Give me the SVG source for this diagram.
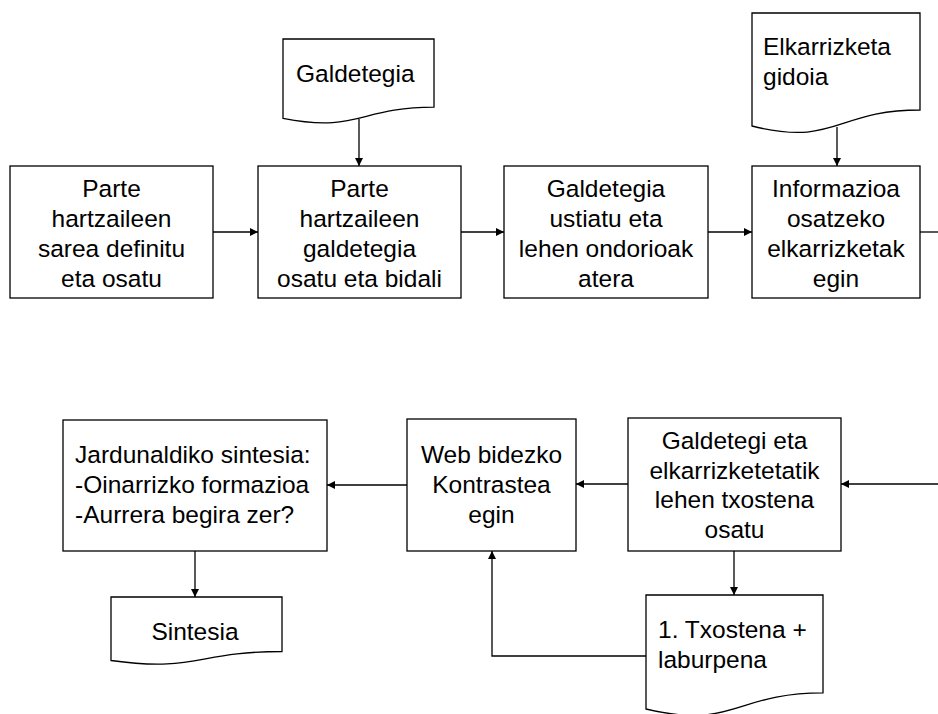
<svg xmlns="http://www.w3.org/2000/svg" width="938" height="714" viewBox="0 0 938 714">
<style>
.b{fill:#fff;stroke:#000;stroke-width:1.3}
.c{fill:none;stroke:#000;stroke-width:1.3}
text{font-family:"Liberation Sans",Arial,sans-serif;font-size:24.5px;fill:#000}
.m{text-anchor:middle}
</style>
<defs>
<marker id="ah" viewBox="0 0 10 10" refX="10" refY="5" markerWidth="8" markerHeight="8" markerUnits="userSpaceOnUse" orient="auto">
<path d="M0,0 L10,5 L0,10 Z" fill="#000"/>
</marker>
</defs>
<rect width="938" height="714" fill="#fff"/>
<g id="connectors">
<path class="c" d="M213,232 H258" marker-end="url(#ah)"/>
<path class="c" d="M461,232 H504" marker-end="url(#ah)"/>
<path class="c" d="M708,232 H752" marker-end="url(#ah)"/>
<path class="c" d="M920,232 H938"/>
<path class="c" d="M359,119 V166" marker-end="url(#ah)"/>
<path class="c" d="M837,127 V166" marker-end="url(#ah)"/>
<path class="c" d="M938,484 H841" marker-end="url(#ah)"/>
<path class="c" d="M628,484 H576" marker-end="url(#ah)"/>
<path class="c" d="M407,485 H327" marker-end="url(#ah)"/>
<path class="c" d="M195,551 V597" marker-end="url(#ah)"/>
<path class="c" d="M734,551 V595" marker-end="url(#ah)"/>
<path class="c" d="M646,656 H492 V551" marker-end="url(#ah)"/>
</g>
<g id="n1">
<rect class="b" x="10" y="166" width="203" height="132"/>
<text class="m" x="111.5" y="197">Parte</text>
<text class="m" x="111.5" y="227">hartzaileen</text>
<text class="m" x="111.5" y="257">sarea definitu</text>
<text class="m" x="111.5" y="287">eta osatu</text>
</g>
<g id="n2">
<rect class="b" x="258" y="166" width="203" height="132"/>
<text class="m" x="359.5" y="197">Parte</text>
<text class="m" x="359.5" y="227">hartzaileen</text>
<text class="m" x="359.5" y="257">galdetegia</text>
<text class="m" x="359.5" y="287">osatu eta bidali</text>
</g>
<g id="n3">
<rect class="b" x="504" y="166" width="204" height="132"/>
<text class="m" x="606" y="197">Galdetegia</text>
<text class="m" x="606" y="227">ustiatu eta</text>
<text class="m" x="606" y="257">lehen ondorioak</text>
<text class="m" x="606" y="287">atera</text>
</g>
<g id="n4">
<rect class="b" x="752" y="166" width="168" height="132"/>
<text class="m" x="836" y="197">Informazioa</text>
<text class="m" x="836" y="227">osatzeko</text>
<text class="m" x="836" y="257">elkarrizketak</text>
<text class="m" x="836" y="287">egin</text>
</g>
<g id="d1">
<path class="b" d="M283,39 H434 V107.2 C358.5,107.2 358.5,133.1 283,118.4 Z"/>
<text x="296" y="82">Galdetegia</text>
</g>
<g id="d2">
<path class="b" d="M752,13 H920 V110 C836,110 836,147 752,126 Z"/>
<text x="763" y="55">Elkarrizketa</text>
<text x="763" y="85">gidoia</text>
</g>
<g id="n5">
<rect class="b" x="628" y="418" width="213" height="133"/>
<text class="m" x="734.5" y="449">Galdetegi eta</text>
<text class="m" x="734.5" y="478.5">elkarrizketetatik</text>
<text class="m" x="734.5" y="508">lehen txostena</text>
<text class="m" x="734.5" y="537.5">osatu</text>
</g>
<g id="n6">
<rect class="b" x="407" y="419" width="169" height="132"/>
<text class="m" x="491.5" y="463">Web bidezko</text>
<text class="m" x="491.5" y="493">Kontrastea</text>
<text class="m" x="491.5" y="523">egin</text>
</g>
<g id="n7">
<rect class="b" x="63" y="420" width="264" height="131"/>
<text x="75" y="463">Jardunaldiko sintesia:</text>
<text x="75" y="493">-Oinarrizko formazioa</text>
<text x="75" y="523">-Aurrera begira zer?</text>
</g>
<g id="d3">
<path class="b" d="M111,597 H282 V651.5 C196.5,651.5 196.5,672.3 111,660.5 Z"/>
<text class="m" x="195" y="640">Sintesia</text>
</g>
<g id="d4">
<path class="b" d="M646,595 H823 V692.8 C734.5,692.8 734.5,730.1 646,709 Z"/>
<text x="658" y="638">1. Txostena +</text>
<text x="658" y="668">laburpena</text>
</g>
</svg>
